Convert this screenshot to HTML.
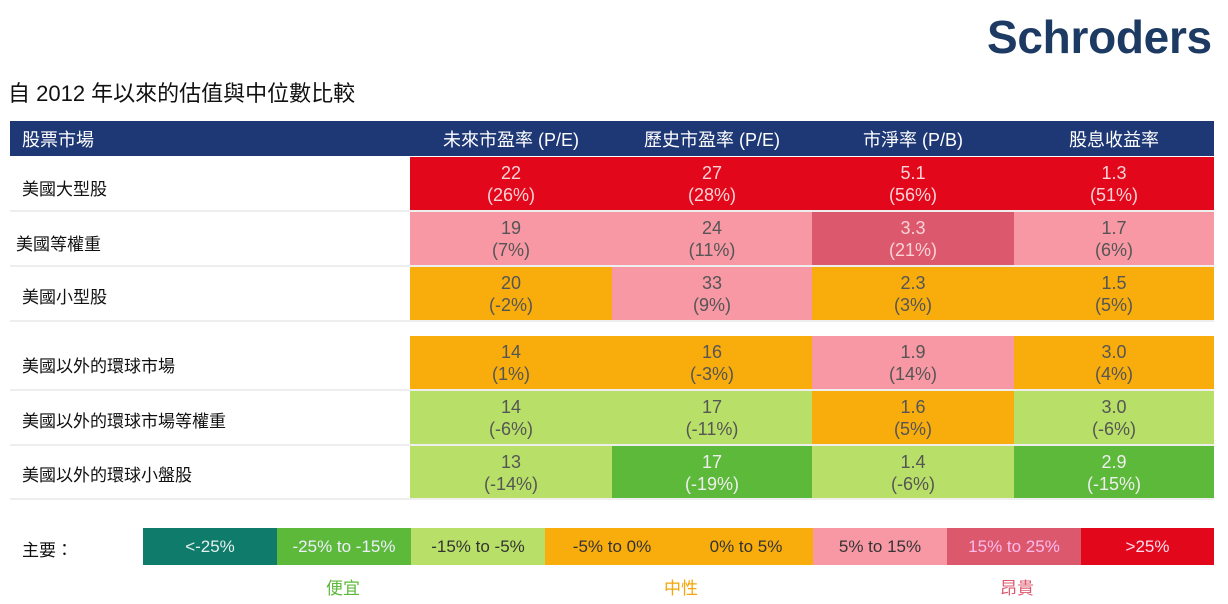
<!DOCTYPE html>
<html><head><meta charset="utf-8"><style>
*{margin:0;padding:0;box-sizing:border-box}
body{width:1228px;height:604px;background:#fff;position:relative;overflow:hidden;font-family:"Liberation Sans","Noto Sans CJK TC",sans-serif}
.a{position:absolute}
.logo{left:987px;top:10px;font-size:46px;font-weight:bold;color:#1d3a63;letter-spacing:-0.3px}
.title{left:8px;top:76px;font-size:22px;color:#111}
.hdr{left:10px;top:121px;width:1204px;height:35px;background:#1e3876}
.h{top:121px;height:35px;line-height:38px;color:#fff;font-size:18px;text-align:center}
.lbl{left:22px;font-size:17px;color:#111}
.c{text-align:center;font-size:18px;line-height:22px;color:#555;padding-top:5px}
.w{color:#fbd2d6}
.sep{left:10px;width:1204px;height:2px;background:#eee}
.lg{top:528px;height:37px;width:134px;text-align:center;line-height:37px;font-size:17px;color:#333}
.k{top:574px;font-size:17px}
</style></head><body>
<div class="a logo">Schroders</div>
<div class="a title">自 2012 年以來的估值與中位數比較</div>
<div class="a hdr"></div>
<div class="a h" style="left:22px;text-align:left">股票市場</div>
<div class="a h" style="left:410px;width:202px">未來市盈率 (P/E)</div>
<div class="a h" style="left:612px;width:200px">歷史市盈率 (P/E)</div>
<div class="a h" style="left:812px;width:202px">市淨率 (P/B)</div>
<div class="a h" style="left:1014px;width:200px">股息收益率</div>

<div class="a lbl" style="top:175px">美國大型股</div>
<div class="a lbl" style="top:230px;left:16px">美國等權重</div>
<div class="a lbl" style="top:283px">美國小型股</div>
<div class="a lbl" style="top:352px">美國以外的環球市場</div>
<div class="a lbl" style="top:407px">美國以外的環球市場等權重</div>
<div class="a lbl" style="top:461px">美國以外的環球小盤股</div>
<div class="a sep" style="top:210px"></div>
<div class="a sep" style="top:265px"></div>
<div class="a sep" style="top:320px"></div>
<div class="a sep" style="top:389px"></div>
<div class="a sep" style="top:444px"></div>
<div class="a sep" style="top:498px"></div>

<div class="a c w" style="left:410px;top:157px;width:202px;height:53px;background:#e2071b">22<br>(26%)</div>
<div class="a c w" style="left:612px;top:157px;width:200px;height:53px;background:#e2071b">27<br>(28%)</div>
<div class="a c w" style="left:812px;top:157px;width:202px;height:53px;background:#e2071b">5.1<br>(56%)</div>
<div class="a c w" style="left:1014px;top:157px;width:200px;height:53px;background:#e2071b">1.3<br>(51%)</div>
<div class="a c" style="left:410px;top:212px;width:202px;height:53px;background:#f898a5">19<br>(7%)</div>
<div class="a c" style="left:612px;top:212px;width:200px;height:53px;background:#f898a5">24<br>(11%)</div>
<div class="a c w" style="left:812px;top:212px;width:202px;height:53px;background:#dc586d">3.3<br>(21%)</div>
<div class="a c" style="left:1014px;top:212px;width:200px;height:53px;background:#f898a5">1.7<br>(6%)</div>
<div class="a c" style="left:410px;top:267px;width:202px;height:53px;background:#f8ad0d">20<br>(-2%)</div>
<div class="a c" style="left:612px;top:267px;width:200px;height:53px;background:#f898a5">33<br>(9%)</div>
<div class="a c" style="left:812px;top:267px;width:202px;height:53px;background:#f8ad0d">2.3<br>(3%)</div>
<div class="a c" style="left:1014px;top:267px;width:200px;height:53px;background:#f8ad0d">1.5<br>(5%)</div>
<div class="a c" style="left:410px;top:336px;width:202px;height:53px;background:#f8ad0d">14<br>(1%)</div>
<div class="a c" style="left:612px;top:336px;width:200px;height:53px;background:#f8ad0d">16<br>(-3%)</div>
<div class="a c" style="left:812px;top:336px;width:202px;height:53px;background:#f898a5">1.9<br>(14%)</div>
<div class="a c" style="left:1014px;top:336px;width:200px;height:53px;background:#f8ad0d">3.0<br>(4%)</div>
<div class="a c" style="left:410px;top:391px;width:202px;height:53px;background:#b8e068">14<br>(-6%)</div>
<div class="a c" style="left:612px;top:391px;width:200px;height:53px;background:#b8e068">17<br>(-11%)</div>
<div class="a c" style="left:812px;top:391px;width:202px;height:53px;background:#f8ad0d">1.6<br>(5%)</div>
<div class="a c" style="left:1014px;top:391px;width:200px;height:53px;background:#b8e068">3.0<br>(-6%)</div>
<div class="a c" style="left:410px;top:446px;width:202px;height:52px;background:#b8e068">13<br>(-14%)</div>
<div class="a c" style="left:612px;top:446px;width:200px;height:52px;background:#5db93a;color:#eee">17<br>(-19%)</div>
<div class="a c" style="left:812px;top:446px;width:202px;height:52px;background:#b8e068">1.4<br>(-6%)</div>
<div class="a c" style="left:1014px;top:446px;width:200px;height:52px;background:#5db93a;color:#eee">2.9<br>(-15%)</div>

<div class="a" style="left:22px;top:536px;font-size:17px;color:#111">主要：</div>
<div class="a lg" style="left:143px;background:#0f7b6b;color:#e6f0ee">&lt;-25%</div>
<div class="a lg" style="left:277px;background:#5db93a;color:#eef">-25% to -15%</div>
<div class="a lg" style="left:411px;background:#b8e068">-15% to -5%</div>
<div class="a lg" style="left:545px;background:#f8ad0d">-5% to 0%</div>
<div class="a lg" style="left:679px;background:#f8ad0d">0% to 5%</div>
<div class="a lg" style="left:813px;background:#f898a5">5% to 15%</div>
<div class="a lg" style="left:947px;background:#dc586d;color:#fbe">15% to 25%</div>
<div class="a lg" style="left:1081px;width:133px;background:#e2071b;color:#fde">&gt;25%</div>
<div class="a k" style="left:326px;color:#5db93a">便宜</div>
<div class="a k" style="left:664px;color:#f4a60a">中性</div>
<div class="a k" style="left:1000px;color:#dc586d">昂貴</div>
</body></html>
